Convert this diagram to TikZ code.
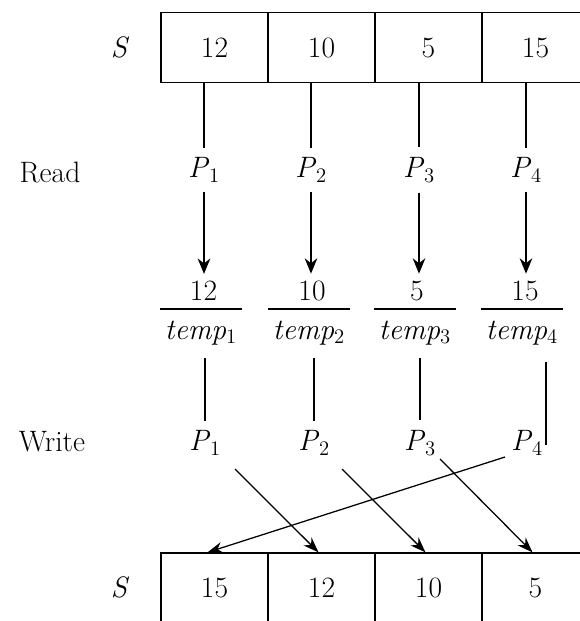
\documentclass[tikz,border=0pt]{standalone}
\usetikzlibrary{arrows.meta}
\usetikzlibrary{calc}

\tikzset{
  cell/.style={draw,line width=0.9pt,minimum width=2.675cm,minimum height=1.75cm,inner sep=0pt},
  lbl/.style={inner sep=3pt},
  link/.style={line width=0.8pt},
  readarrow/.style={line width=0.8pt,-{Stealth[length=11pt,width=9pt]}},
  writearrow/.style={line width=0.9pt,-{Stealth[length=11pt,width=8pt]}}
}

\begin{document}
\begin{tikzpicture}[x=0.025cm,y=-0.025cm,font=\fontsize{21}{25}\selectfont]
\useasboundingbox (0,0) rectangle (580,621);
\clip (0,0) rectangle (580,621);

\node[lbl] (s1) at (120,47) {\textit{S}};
\node[cell] (t1) at (214.5,47.5) {12};
\node[cell] (t2) at (321.5,47.5) {10};
\node[cell] (t3) at (428.5,47.5) {5};
\node[cell] (t4) at (535.5,47.5) {15};

\node[lbl] (rd) at (50,172) {Read};
\node[lbl] (r1) at (204,170) {\textit{P}\textsubscript{1}};
\node[lbl] (r2) at (311,170) {\textit{P}\textsubscript{2}};
\node[lbl] (r3) at (419,170) {\textit{P}\textsubscript{3}};
\node[lbl] (r4) at (526,170) {\textit{P}\textsubscript{4}};

\draw[link,shorten >=4pt] (t1.south -| r1) -- (r1.north);
\draw[link,shorten >=4pt] (t2.south -| r2) -- (r2.north);
\draw[link,shorten >=4pt] (t3.south -| r3) -- (r3.north);
\draw[link,shorten >=4pt] (t4.south -| r4) -- (r4.north);

\node[lbl] (v1) at (203.5,291) {12};
\node[lbl] (v2) at (312,291) {10};
\node[lbl] (v3) at (417,291) {5};
\node[lbl] (v4) at (525,291) {15};
\node[lbl] (m1) at (201,333) {\textit{temp}\textsubscript{1}};
\node[lbl] (m2) at (309,333) {\textit{temp}\textsubscript{2}};
\node[lbl] (m3) at (415,333) {\textit{temp}\textsubscript{3}};
\node[lbl] (m4) at (522,333) {\textit{temp}\textsubscript{4}};
\draw[link] ($(m1.west)+(0,-24)$) -- ($(m1.east)+(0,-24)$);
\draw[link] ($(m2.west)+(0,-24)$) -- ($(m2.east)+(0,-24)$);
\draw[link] ($(m3.west)+(0,-24)$) -- ($(m3.east)+(0,-24)$);
\draw[link] ($(m4.west)+(0,-24)$) -- ($(m4.east)+(0,-24)$);

\draw[readarrow,shorten <=4pt,shorten >=2pt] (r1.south) -- (r1.south |- v1.north);
\draw[readarrow,shorten <=4pt,shorten >=2pt] (r2.south) -- (r2.south |- v2.north);
\draw[readarrow,shorten <=4pt,shorten >=2pt] (r3.south) -- (r3.south |- v3.north);
\draw[readarrow,shorten <=4pt,shorten >=2pt] (r4.south) -- (r4.south |- v4.north);

\node[lbl] (wr) at (52,442) {Write};
\node[lbl] (w1) at (205,443) {\textit{P}\textsubscript{1}};
\node[lbl] (w2) at (314,443) {\textit{P}\textsubscript{2}};
\node[lbl] (w3) at (420,443) {\textit{P}\textsubscript{3}};
\node[lbl] (w4) at (527,443) {\textit{P}\textsubscript{4}};
\coordinate (k4) at (546,445);

\draw[link,shorten <=6pt,shorten >=4pt] (m1.south -| w1) -- (w1.north);
\draw[link,shorten <=6pt,shorten >=4pt] (m2.south -| w2) -- (w2.north);
\draw[link,shorten <=6pt,shorten >=4pt] (m3.south -| w3) -- (w3.north);
\draw[link,shorten <=9pt] (m4.south -| k4) -- (k4);

\node[lbl] (s2) at (120,587) {\textit{S}};
\node[cell] (b1) at (214.5,588) {15};
\node[cell] (b2) at (321.5,588) {12};
\node[cell] (b3) at (428.5,588) {10};
\node[cell] (b4) at (535.5,588) {5};

\draw[writearrow] ($(w1)+(30,26)$) -- ($(b2.north)+(-3,0)$);
\draw[writearrow] ($(w2)+(28,26)$) -- ($(b3.north)+(-3,0)$);
\draw[writearrow] ($(w3)+(20,16)$) -- ($(b4.north)+(-3,0)$);
\draw[writearrow] ($(w4)+(-22,14)$) -- ($(b1.north)+(-7,0)$);

\end{tikzpicture}
\end{document}
